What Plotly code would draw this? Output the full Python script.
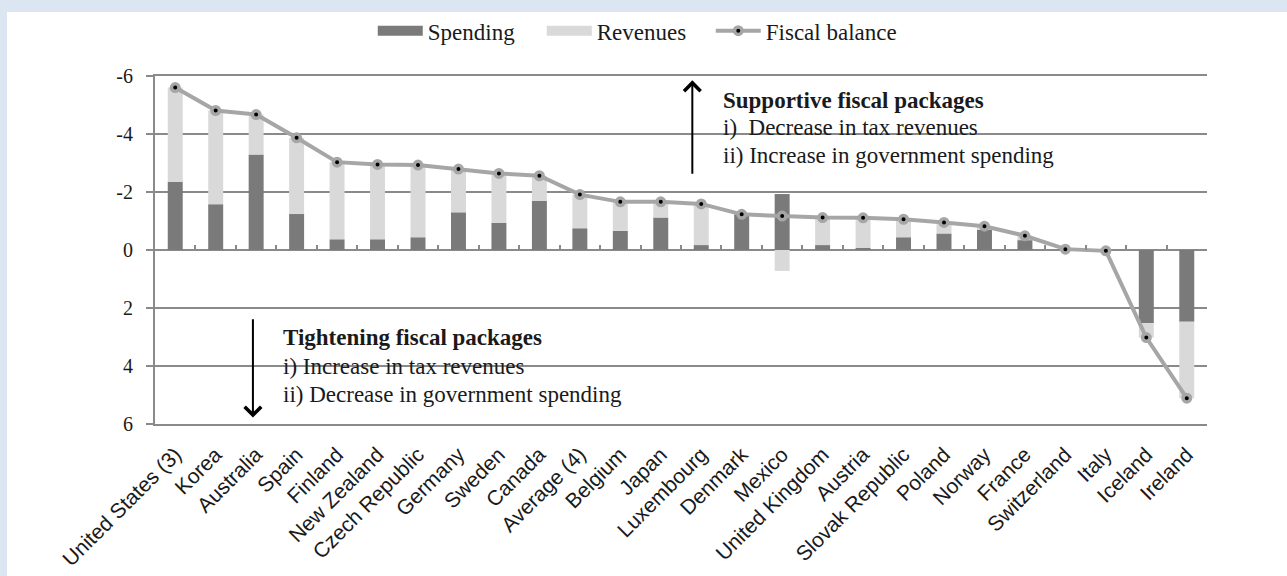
import plotly.graph_objects as go

categories = ["United States (3)", "Korea", "Australia", "Spain", "Finland", "New Zealand",
              "Czech Republic", "Germany", "Sweden", "Canada", "Average (4)", "Belgium", "Japan",
              "Luxembourg", "Denmark", "Mexico", "United Kingdom", "Austria", "Slovak Republic",
              "Poland", "Norway", "France", "Switzerland", "Italy", "Iceland", "Ireland"]

spending = [-2.35, -1.58, -3.29, -1.24, -0.37, -0.37, -0.44, -1.30, -0.94, -1.69, -0.75, -0.66, -1.12,
            -0.17, -1.23, -1.93, -0.17, -0.08, -0.44, -0.57, -0.69, -0.34, 0.0, 0.0, 2.52, 2.47]
revenues = [-3.25, -3.23, -1.38, -2.63, -2.66, -2.58, -2.49, -1.49, -1.70, -0.87, -1.16, -1.00, -0.54,
            -1.42, 0.0, 0.72, -0.95, -1.03, -0.62, -0.38, -0.13, -0.15, 0.0, 0.0, 0.50, 2.64]
fiscal_balance = [-5.60, -4.81, -4.67, -3.87, -3.03, -2.95, -2.93, -2.79, -2.64, -2.56, -1.91, -1.66, -1.66,
                  -1.59, -1.23, -1.17, -1.12, -1.11, -1.06, -0.95, -0.82, -0.49, -0.03, 0.03, 3.02, 5.11]

y_ticks = [-6, -4, -2, 0, 2, 4, 6]

DARK = "#7a7a7a"
LIGHT = "#d9d9d9"
LINE = "#a6a6a6"
GRID = "#8a8a8a"
TXT = "#1a1a1a"
SERIF = "Liberation Serif"
SANS = "Liberation Sans"

fig = go.Figure()
fig.add_trace(go.Bar(x=categories, y=spending, name="Spending", marker=dict(color=DARK, line_width=0),
                     width=0.37, showlegend=False))
fig.add_trace(go.Bar(x=categories, y=revenues, name="Revenues", marker=dict(color=LIGHT, line_width=0),
                     width=0.37, showlegend=False))
fig.add_trace(go.Scatter(x=categories, y=fiscal_balance, name="Fiscal balance", mode="lines+markers",
                         line=dict(color=LINE, width=4), legendrank=3,
                         marker=dict(color="black", size=7.5, line=dict(color=LINE, width=3.5))))
# legend swatches
fig.add_trace(go.Scatter(x=[None], y=[None], name="Spending", mode="lines",
                         line=dict(color=DARK, width=12), legendrank=1))
fig.add_trace(go.Scatter(x=[None], y=[None], name="Revenues", mode="lines",
                         line=dict(color=LIGHT, width=12), legendrank=2))
# spacer so the last legend label is not clipped
fig.add_trace(go.Scatter(x=[None], y=[None], name=" ", mode="lines",
                         line=dict(color="rgba(0,0,0,0)", width=0), legendrank=4, hoverinfo="skip"))
# zero-line ticks axis helper
fig.add_trace(go.Scatter(x=[0], y=[None], xaxis="x2", yaxis="y", showlegend=False,
                         hoverinfo="skip", mode="markers"))

shapes = [
    # white page panel
    dict(type="rect", xref="paper", yref="paper", x0=-0.1407, x1=1.09, y0=-0.45, y1=1.184,
         fillcolor="white", line_width=0, layer="below"),
    # text boxes masking gridlines
    dict(type="rect", xref="x", yref="y", x0=12.53, x1=22.9, y0=-5.93, y1=-2.25,
         fillcolor="white", line_width=0, layer="below"),
    dict(type="rect", xref="x", yref="y", x0=1.86, x1=11.9, y0=2.24, y1=5.9,
         fillcolor="white", line_width=0, layer="below"),
]

ann = []
# arrows
ann.append(dict(x=12.78, y=-5.85, ax=12.78, ay=-2.58, xref="x", yref="y", axref="x", ayref="y",
                text="", showarrow=True, arrowhead=4, arrowsize=1.6, arrowwidth=2, arrowcolor="black"))
ann.append(dict(x=1.92, y=5.78, ax=1.92, ay=2.34, xref="x", yref="y", axref="x", ayref="y",
                text="", showarrow=True, arrowhead=4, arrowsize=1.6, arrowwidth=2, arrowcolor="black"))
upper = [("<b>Supportive fiscal packages</b>", -5.16), ("i)  Decrease in tax revenues", -4.23),
         ("ii) Increase in government spending", -3.27)]
lower = [("<b>Tightening fiscal packages</b>", 3.03), ("i) Increase in tax revenues", 4.03),
         ("ii) Decrease in government spending", 4.99)]
for t, yy in upper:
    ann.append(dict(x=13.50, y=yy, xref="x", yref="y", text=t, showarrow=False, xanchor="left",
                    yanchor="middle", font=dict(family=SERIF, size=23, color=TXT)))
for t, yy in lower:
    ann.append(dict(x=2.62, y=yy, xref="x", yref="y", text=t, showarrow=False, xanchor="left",
                    yanchor="middle", font=dict(family=SERIF, size=23, color=TXT)))

fig.update_layout(
    width=1287, height=576,
    margin=dict(l=155, r=80, t=76, b=152, autoexpand=False),
    paper_bgcolor="#dce6f2", plot_bgcolor="white",
    barmode="relative", bargap=0.63,
    showlegend=True,
    legend=dict(orientation="h", x=0.207, y=1.13, xanchor="left", yanchor="middle",
                font=dict(family=SERIF, size=23, color=TXT), entrywidth=109, entrywidthmode="pixels",
                itemwidth=45,
                bgcolor="rgba(0,0,0,0)", traceorder="normal"),
    xaxis=dict(type="category", tickangle=-45, tickfont=dict(family=SANS, size=21, color=TXT),
               showline=True, linecolor=GRID, linewidth=2, mirror=True, ticks="", showgrid=False,
               automargin=False,
               ticklabelstandoff=8, range=[-0.5, len(categories) - 0.5]),
    xaxis2=dict(overlaying="x", anchor="free", position=0.5, side="bottom",
                range=[-0.5, len(categories) - 0.5],
                tickvals=[i + 0.5 for i in range(len(categories))], ticks="inside", ticklen=5,
                tickwidth=2, tickcolor=GRID, showticklabels=False, showgrid=False, zeroline=False,
                showline=False, automargin=False),
    yaxis=dict(range=[6, -6], autorange=False, tickvals=y_ticks, ticktext=[str(v) for v in y_ticks],
               showgrid=True, gridcolor=GRID, gridwidth=2, zeroline=True, zerolinecolor=GRID,
               zerolinewidth=2, showline=True, linecolor=GRID, linewidth=2, ticks="outside",
               ticklen=7, tickwidth=2, tickcolor=GRID, ticklabelstandoff=9, automargin=False,
               tickfont=dict(family=SERIF, size=20, color=TXT)),
    shapes=shapes, annotations=ann,
)

fig.write_html("out.html", config={"displayModeBar": False},
               post_script="document.body.style.margin='0';document.body.style.padding='0';")
